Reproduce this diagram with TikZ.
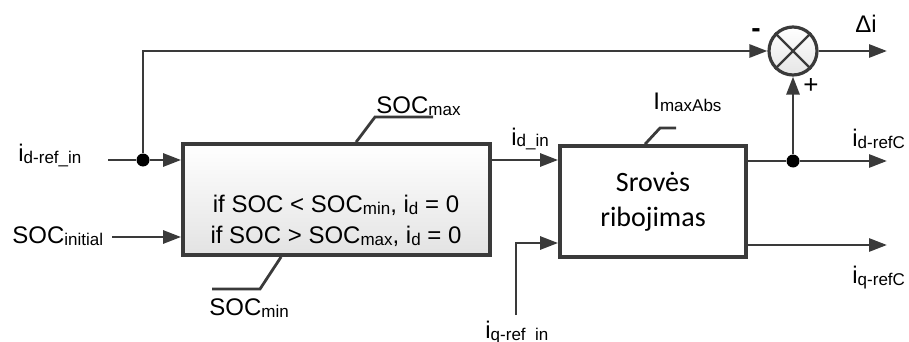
\documentclass[tikz,border=0pt]{standalone}
\usepackage{fontspec}
\setmainfont{Liberation Sans}
\newfontfamily\blockfont{Carlito}
\usepackage{tikz}
\usetikzlibrary{arrows.meta, positioning, calc}

\definecolor{wire}{RGB}{58,58,58}
\newcommand{\lsub}[1]{\raisebox{-1pt}{\fontsize{8.5}{9}\selectfont #1}}

\begin{document}
\begin{tikzpicture}[
    x=0.5pt, y=-0.5pt,
    block/.style={rectangle, draw=wire, line width=1.9pt, minimum width=153.5pt, minimum height=55.5pt, align=center},
    arrow/.style={draw=wire, line width=1.4pt, -{Triangle[length=9pt, width=6.5pt]}},
    wireline/.style={draw=wire, line width=1.4pt},
    lbl/.style={font=\fontsize{12}{14}\selectfont, inner sep=0pt, anchor=base west},
    dot/.style={circle, fill=black, inner sep=0pt, minimum size=6.5pt}
]
    \useasboundingbox (0,0) rectangle (909,342);

    % blocks
    \node[block, top color=white, bottom color=gray!22] (soclim) at (336.5,199.5) {};
    \node[font=\fontsize{12}{15.5}\selectfont, align=center] (cond) at (336,221) {if SOC < SOC\lsub{min}, i\lsub{d} = 0\\if SOC > SOC\lsub{max}, i\lsub{d} = 0};
    \node[block, minimum width=93pt, fill=white, font=\blockfont\fontsize{14}{17.5}\selectfont] (limit) at (653,201.5) {Srovės\\ribojimas};
    \node[circle, draw=wire, line width=1.6pt, minimum size=24pt, top color=white, bottom color=gray!20] (sum) at (793,51) {};
    \draw[draw=wire, line width=1.2pt] (sum.north west) -- (sum.south east) (sum.north east) -- (sum.south west);

    % branch points and free ends
    \node[dot] (split1) at (143,160) {};
    \node[dot] (split2) at (793,161) {};
    \coordinate (idsrc) at (108,160);
    \coordinate (socsrc) at (112,237);
    \coordinate (iqsrc) at (516,315);
    \coordinate (dout) at (887,51);
    \coordinate (idout) at (887,161);
    \coordinate (iqout) at (887,245);

    % labels
    \node[lbl] (idreflbl) at (18,162) {i\lsub{d-ref\_in}};
    \node[lbl] (socinitlbl) at (12,243) {SOC\lsub{initial}};
    \node[lbl] (socmaxlbl) at (376,113) {SOC\lsub{max}};
    \node[lbl] (socminlbl) at (209,315) {SOC\lsub{min}};
    \node[lbl] (idinlbl) at (511,145) {i\lsub{d\_in}};
    \node[lbl] (iqreflbl) at (485,338) {i\lsub{q-ref\_in}};
    \node[lbl] (imaxlbl) at (653,110) {I\lsub{maxAbs}};
    \node[lbl] (dilbl) at (855,33) {Δi};
    \node[lbl] (idclbl) at (852,147) {i\lsub{d-refC}};
    \node[lbl] (iqclbl) at (852,283) {i\lsub{q-refC}};
    \node[font=\fontsize{14}{14}\bfseries] (minus) at (756,33) {-};
    \node[font=\fontsize{13}{13}\selectfont] (plus) at (811,86) {+};

    % leader lines
    \draw[wireline] ([xshift=87.5pt]soclim.north west) -- (375,117) -- (433,117);
    \draw[wireline] ([xshift=50pt]soclim.south west) -- (260,289) -- (212,289);
    \draw[wireline] ([xshift=43.5pt]limit.north west) -- (660,128) -- (676,128);

    % Arrows
    \draw[wireline] (idsrc) -- (split1);
    \draw[arrow] (split1) -- (split1 -| soclim.west);
    \draw[arrow] (split1) |- (sum.west);
    \draw[arrow] (socsrc) -- (socsrc -| soclim.west);
    \draw[arrow] (soclim.east |- split1) -- (limit.west |- split1);
    \draw[arrow] (iqsrc) |- (limit.west |- 0,243);
    \draw[wireline] (limit.east |- split2) -- (split2);
    \draw[arrow] (split2) -- (idout);
    \draw[arrow] (split2) -- (sum);
    \draw[arrow] (limit.east |- iqout) -- (iqout);
    \draw[arrow] (sum) -- (dout);
\end{tikzpicture}
\end{document}
